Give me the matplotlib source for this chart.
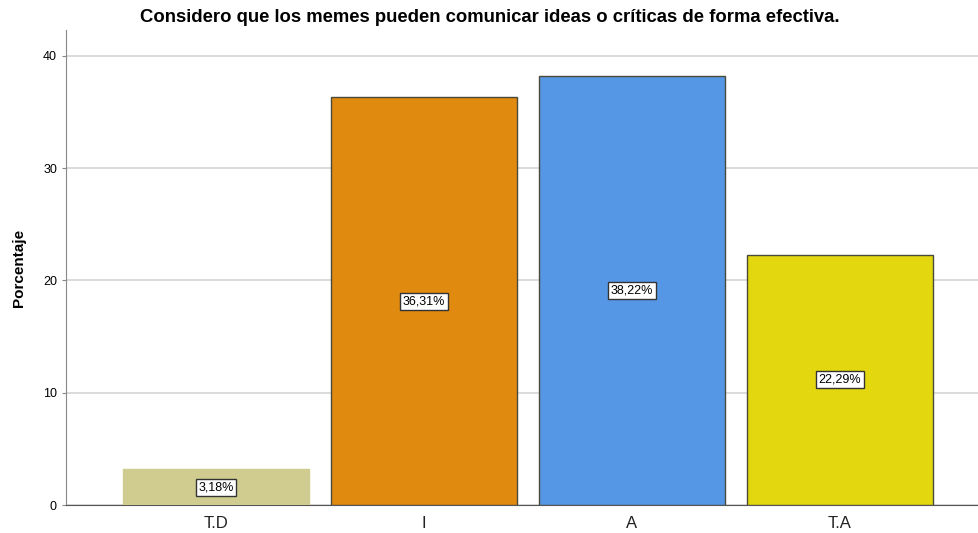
import matplotlib.pyplot as plt

categories = ["T.D", "I", "A", "T.A"]
values = [3.18, 36.31, 38.22, 22.29]
labels = ["3,18%", "36,31%", "38,22%", "22,29%"]
colors = ["#D0CB8E", "#E08A10", "#5597E5", "#E3D70F"]
edges = ["#D0CB8E", "#4a4a3a", "#4a4a3a", "#4a4a3a"]

plt.rcParams['font.family'] = ['Liberation Sans', 'DejaVu Sans']

fig = plt.figure(figsize=(9.79, 5.33), dpi=100)
ax = fig.add_axes([0.0674, 0.0525, 0.9326, 0.8912])

x = list(range(len(categories)))
ax.bar(x, values, width=0.894, color=colors, edgecolor=edges, linewidth=1, zorder=3)

for i in x:
    ax.text(i, values[i] / 2, labels[i], ha="center", va="center", fontsize=9, zorder=4,
            bbox=dict(boxstyle="square,pad=0.2", facecolor="white", edgecolor="#333333", linewidth=1))

ax.set_xlim(-0.721, 3.668)
ax.set_ylim(0, 42.3)
ax.set_yticks([0, 10, 20, 30, 40])
ax.set_xticks(x)
ax.set_xticklabels(categories, fontsize=12, color="#222222")
ax.tick_params(axis="y", labelsize=9, length=3, color="#888888")
ax.tick_params(axis="x", length=0, pad=8)
ax.yaxis.grid(True, color="#d4d4d4", linewidth=1.2, zorder=0)

for s in ["top", "right"]:
    ax.spines[s].set_visible(False)
ax.spines["left"].set_color("#888888")
ax.spines["bottom"].set_color("#555555")

ax.set_ylabel("Porcentaje", fontsize=11, fontweight="bold", labelpad=12)
fig.text(0.5, 0.967, "Considero que los memes pueden comunicar ideas o críticas de forma efectiva.",
         ha="center", va="center", fontsize=13.3, fontweight="bold")

plt.savefig("out.png", dpi=100)
